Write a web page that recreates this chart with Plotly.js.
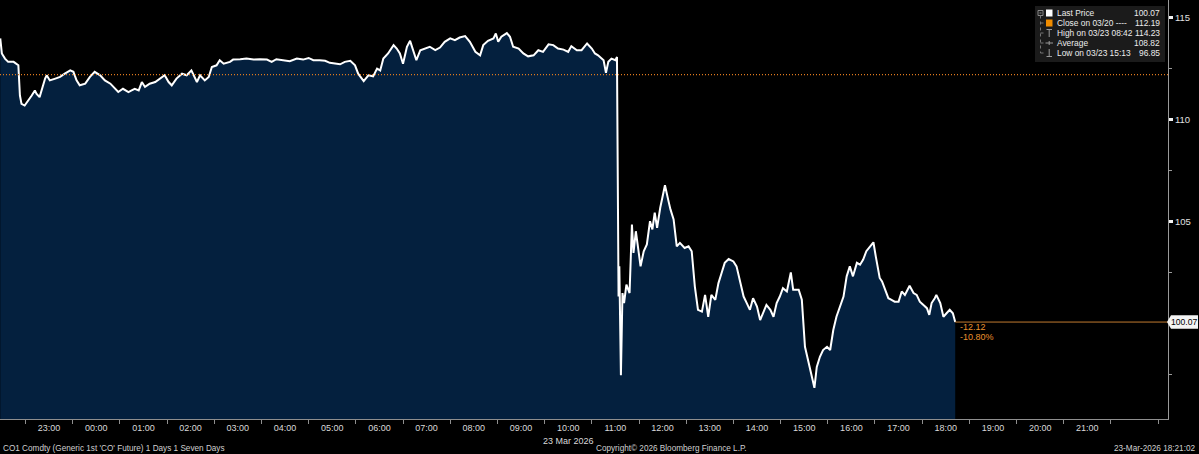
<!DOCTYPE html>
<html><head><meta charset="utf-8">
<script src="https://cdn.plot.ly/plotly-3.0.1.min.js"></script>
<style>html,body{margin:0;padding:0;background:#000;}#chart{width:1199px;height:454px;}</style>
</head><body><div id="chart"></div>
<script>
// ---- data ----
const timesMar22 = ['21:58','22:00','22:04','22:08','22:15','22:19','22:21','22:23','22:25','22:29','22:34','22:38','22:42','22:44','22:48','22:51','22:55','22:57','23:01','23:08','23:14','23:20','23:27','23:31','23:35','23:39','23:46','23:52','23:58'];
const pricesMar22 = [113.97,113.23,112.98,112.82,112.82,112.73,112.65,111.17,110.76,110.68,110.93,111.17,111.42,111.26,111.09,111.50,112.00,112.16,111.91,112.00,112.08,112.24,112.40,112.33,111.91,111.67,111.75,112.08,112.33];
const timesMar23 = ['00:05','00:11','00:18','00:24','00:28','00:34','00:41','00:45','00:49','00:54','00:58','01:02','01:08','01:15','01:21','01:27','01:32','01:36','01:42','01:49','01:55','02:01','02:08','02:12','02:18','02:23','02:27','02:33','02:37','02:42','02:50','02:54','03:03','03:11','03:20','03:28','03:37','03:43','03:49','03:58','04:06','04:15','04:23','04:30','04:36','04:44','04:51','04:57','05:04','05:10','05:16','05:23','05:29','05:33','05:40','05:46','05:52','05:57','06:01','06:05','06:11','06:18','06:22','06:26','06:30','06:35','06:39','06:43','06:47','06:52','06:58','07:04','07:11','07:17','07:23','07:30','07:36','07:42','07:49','07:55','08:02','08:08','08:12','08:18','08:25','08:28','08:31','08:35','08:42','08:46','08:50','08:57','09:03','09:09','09:16','09:22','09:28','09:35','09:41','09:47','09:54','10:00','10:04','10:11','10:17','10:24','10:30','10:34','10:38','10:45','10:48','10:51','10:55','11:00','11:02','11:04','11:05','11:07','11:09','11:11','11:14','11:18','11:21','11:23','11:26','11:29','11:32','11:36','11:40','11:44','11:47','11:50','11:53','11:57','12:00','12:03','12:07','12:10','12:14','12:18','12:22','12:28','12:33','12:37','12:41','12:45','12:50','12:54','12:58','13:02','13:07','13:11','13:15','13:19','13:24','13:30','13:34','13:38','13:43','13:47','13:51','13:55','14:00','14:04','14:08','14:12','14:17','14:21','14:25','14:29','14:33','14:38','14:43','14:46','14:53','14:57','15:01','15:05','15:08','15:13','15:16','15:20','15:24','15:29','15:33','15:37','15:41','15:46','15:50','15:54','15:58','16:02','16:07','16:11','16:15','16:19','16:24','16:28','16:31','16:36','16:39','16:43','16:47','16:51','16:55','17:00','17:04','17:08','17:14','17:19','17:23','17:27','17:31','17:36','17:39','17:42','17:46','17:48','17:53','17:57','18:01','18:05','18:09','18:12'];
const pricesMar23 = [112.16,111.91,111.75,111.50,111.34,111.50,111.34,111.42,111.50,111.42,111.83,111.59,111.75,111.83,112.00,112.16,111.83,111.67,112.00,112.24,112.16,112.40,111.83,112.16,111.91,112.08,112.57,112.65,112.90,112.73,112.82,112.93,112.95,112.98,112.93,112.95,112.93,112.82,112.95,112.90,112.85,112.98,112.93,113.01,112.90,112.90,112.87,112.77,112.73,112.70,112.82,112.87,112.65,112.24,111.88,112.16,112.11,112.49,112.40,112.98,113.23,113.64,113.47,113.23,112.73,113.56,113.85,113.39,112.90,113.39,113.47,113.56,113.39,113.52,113.80,113.97,113.88,114.01,114.08,113.80,113.31,113.14,113.64,113.85,113.97,114.21,113.80,114.05,114.23,114.05,113.56,113.47,113.23,113.09,113.14,113.39,113.31,113.68,113.64,113.47,113.42,113.31,113.59,113.39,113.39,113.72,113.47,113.23,113.14,112.90,112.28,112.82,112.98,112.90,113.06,101.32,102.80,97.46,101.49,101.00,101.90,101.49,104.85,103.46,104.52,103.70,102.80,103.54,103.87,105.01,104.61,105.43,104.69,105.67,106.25,106.77,106.08,105.59,105.10,103.78,103.95,103.70,103.78,103.54,101.81,100.67,100.58,101.40,100.33,101.40,101.16,101.98,102.47,102.97,103.16,103.04,102.80,102.14,101.32,101.00,100.67,101.24,100.83,100.17,100.50,100.91,100.67,100.33,101.00,101.32,101.73,101.57,102.50,101.65,101.65,101.16,98.86,98.20,97.71,96.85,97.87,98.37,98.70,98.86,98.70,99.68,100.33,100.83,101.32,102.31,102.80,102.31,102.97,102.88,103.13,103.54,103.78,103.98,103.29,102.23,102.06,101.65,101.24,101.16,101.07,101.07,101.57,101.40,101.85,101.49,101.40,101.07,100.91,100.75,100.42,101.00,101.24,101.40,101.00,100.33,100.50,100.67,100.50,100.07];
const hourLabels = ['23:00','00:00','01:00','02:00','03:00','04:00','05:00','06:00','07:00','08:00','09:00','10:00','11:00','12:00','13:00','14:00','15:00','16:00','17:00','18:00','19:00','20:00','21:00'];
const yTickVals = [105, 110, 115];
const yMinorVals = [97.5, 102.5, 107.5, 112.5];
const legendLabels = ['Last Price','Close on 03/20 ----','High on 03/23 08:42','Average','Low on 03/23 15:13'];
const legendValues = ['100.07','112.19','114.23','108.82','96.85'];
const lastPrice = 100.07;
const prevClose = 112.19;
const changeTexts = ['-12.12','-10.80%'];
const footerLeft = "CO1 Comdty (Generic 1st 'CO' Future) 1 Days 1 Seven Days";
const footerMid = 'Copyright\u00a9 2026 Bloomberg Finance L.P.';
const footerRight = '23-Mar-2026 18:21:02';
const dateLabel = '23 Mar 2026';

// ---- build ----
const times = timesMar22.map(t => '2026-03-22 ' + t).concat(timesMar23.map(t => '2026-03-23 ' + t));
const prices = pricesMar22.concat(pricesMar23);
const tickvals = hourLabels.map((h, i) => (i === 0 ? '2026-03-22 ' : '2026-03-23 ') + h);
const lastTime = times[times.length - 1];

const W = 1199, H = 454, ML = 0, MR = 31, MT = 0, MB = 35;
const PW = W - ML - MR, PH = H - MT - MB;
const xRange = ['2026-03-22 21:57:40', '2026-03-23 22:42:30'];
const yRange = [95.32, 115.85];
const px = x => (x - ML) / PW;
const py = y => 1 - (y - MT) / PH;
const yPaper = v => (v - yRange[0]) / (yRange[1] - yRange[0]);

const FONT = 'Liberation Sans, Arial, sans-serif';
const ORANGE = '#e8922e';

const shapes = [];
const annotations = [];

// previous close dotted line
shapes.push({type:'line', xref:'paper', yref:'y', x0:0, x1:1, y0:prevClose, y1:prevClose,
  line:{color:'#e07a1e', width:1.2, dash:'1px,2px'}, layer:'above'});
// last price line from last point to axis
shapes.push({type:'line', xref:'x', yref:'y', x0:lastTime, x1:xRange[1], y0:lastPrice, y1:lastPrice,
  line:{color:'#c17a30', width:1}});

// legend box
shapes.push({type:'rect', xref:'paper', yref:'paper', x0:px(1035), x1:px(1165), y0:py(62), y1:py(6),
  fillcolor:'#1b1b1b', line:{width:0}});
const rowY = [13, 23, 33, 43, 53];
// tree connector
shapes.push({type:'rect', xref:'paper', yref:'paper', x0:px(1038), x1:px(1043), y0:py(15.5), y1:py(10.5), line:{color:'#8a8a8a', width:1}});
shapes.push({type:'line', xref:'paper', yref:'paper', x0:px(1039.5), x1:px(1041.5), y0:py(13), y1:py(13), line:{color:'#8a8a8a', width:1}});
shapes.push({type:'line', xref:'paper', yref:'paper', x0:px(1040.5), x1:px(1040.5), y0:py(15.5), y1:py(53), line:{color:'#777', width:1, dash:'dot'}});
for (let i = 1; i < 5; i++) {
  shapes.push({type:'line', xref:'paper', yref:'paper', x0:px(1040.5), x1:px(1044), y0:py(rowY[i]), y1:py(rowY[i]), line:{color:'#777', width:1, dash:'dot'}});
}
// icons
shapes.push({type:'rect', xref:'paper', yref:'paper', x0:px(1046), x1:px(1052.5), y0:py(16.5), y1:py(9.5), fillcolor:'#ffffff', line:{width:0}});
shapes.push({type:'rect', xref:'paper', yref:'paper', x0:px(1046), x1:px(1052.5), y0:py(26.5), y1:py(19.5), fillcolor:'#f08c00', line:{width:0}});
shapes.push({type:'line', xref:'paper', yref:'paper', x0:px(1046.5), x1:px(1052), y0:py(29.5), y1:py(29.5), line:{color:'#9a9a9a', width:1}});
shapes.push({type:'line', xref:'paper', yref:'paper', x0:px(1049.2), x1:px(1049.2), y0:py(29.5), y1:py(37), line:{color:'#9a9a9a', width:1}});
shapes.push({type:'line', xref:'paper', yref:'paper', x0:px(1045.5), x1:px(1053), y0:py(43), y1:py(43), line:{color:'#9a9a9a', width:1}});
shapes.push({type:'line', xref:'paper', yref:'paper', x0:px(1049.2), x1:px(1049.2), y0:py(41), y1:py(45), line:{color:'#9a9a9a', width:1}});
shapes.push({type:'line', xref:'paper', yref:'paper', x0:px(1049.2), x1:px(1049.2), y0:py(49), y1:py(56.5), line:{color:'#9a9a9a', width:1}});
shapes.push({type:'line', xref:'paper', yref:'paper', x0:px(1046.5), x1:px(1052), y0:py(56.5), y1:py(56.5), line:{color:'#9a9a9a', width:1}});

legendLabels.forEach((lab, i) => {
  annotations.push({xref:'paper', yref:'paper', x:px(1055), y:py(rowY[i]), xanchor:'left', yanchor:'middle',
    text:lab, showarrow:false, font:{family:FONT, size:8.4, color:'#ececec'}});
  annotations.push({xref:'paper', yref:'paper', x:px(1162), y:py(rowY[i]), xanchor:'right', yanchor:'middle',
    text:legendValues[i], showarrow:false, font:{family:FONT, size:8.4, color:'#ececec'}});
});

// last price tag on the right axis
const yp = yPaper(lastPrice);
const hh = 6.8 / PH;
shapes.push({type:'path', xref:'paper', yref:'paper',
  path:`M ${px(1167)} ${yp} L ${px(1171)} ${yp + hh} L ${px(1198)} ${yp + hh} L ${px(1198)} ${yp - hh} L ${px(1171)} ${yp - hh} Z`,
  fillcolor:'#f4f4f4', line:{width:0}});
annotations.push({xref:'paper', yref:'paper', x:px(1184.5), y:yp, xanchor:'center', yanchor:'middle',
  text:legendValues[0], showarrow:false, font:{family:FONT, size:8.6, color:'#000'}});

// change annotations
changeTexts.forEach((t, i) => {
  annotations.push({xref:'x', yref:'y', x:lastTime, y:lastPrice, xanchor:'left', yanchor:'middle',
    xshift:3, yshift:-4.5 - 10 * i, text:t, showarrow:false, font:{family:FONT, size:9, color:ORANGE}});
});

// date label and footer
annotations.push({xref:'x', yref:'paper', x:'2026-03-23 10:00', y:py(441), xanchor:'center', yanchor:'middle',
  text:dateLabel, showarrow:false, font:{family:FONT, size:9, color:'#d9d9d9'}});
annotations.push({xref:'paper', yref:'paper', x:px(1), y:py(448.5), xanchor:'left', yanchor:'middle',
  text:footerLeft, showarrow:false, font:{family:FONT, size:8.2, color:'#d0d0d0'}});
annotations.push({xref:'paper', yref:'paper', x:px(671), y:py(448.5), xanchor:'center', yanchor:'middle',
  text:footerMid, showarrow:false, font:{family:FONT, size:8.2, color:'#d0d0d0'}});
annotations.push({xref:'paper', yref:'paper', x:px(1197), y:py(448.5), xanchor:'right', yanchor:'middle',
  text:footerRight, showarrow:false, font:{family:FONT, size:8.2, color:'#d0d0d0'}});

const trace = {
  type:'scatter', mode:'lines', x:times, y:prices,
  line:{color:'#ffffff', width:2}, fill:'tozeroy', fillcolor:'#04203e',
  hoverinfo:'skip'
};

const layout = {
  width:W, height:H, margin:{l:ML, r:MR, t:MT, b:MB},
  paper_bgcolor:'#000000', plot_bgcolor:'#000000', showlegend:false,
  font:{family:FONT, size:10, color:'#d9d9d9'},
  xaxis:{type:'date', range:xRange, showline:true, linecolor:'#8f8f8f', linewidth:1,
    tickmode:'array', tickvals:tickvals, ticktext:hourLabels, ticks:'', ticklen:0,
    tickfont:{family:FONT, size:9, color:'#d9d9d9'},
    minor:{tickmode:'linear', tick0:'2026-03-22 22:30', dtick:3600000, ticks:'outside', ticklen:4, tickcolor:'#8f8f8f', showgrid:false},
    showgrid:false, zeroline:false, fixedrange:true},
  yaxis:{side:'right', range:yRange, showline:true, linecolor:'#9a9a9a', linewidth:1,
    tickmode:'array', tickvals:yTickVals, ticks:'outside', ticklen:4, tickwidth:3, tickcolor:'#f2f2f2',
    tickfont:{family:FONT, size:9.5, color:'#e0e0e0'},
    minor:{tickmode:'array', tickvals:yMinorVals, ticks:'outside', ticklen:3, tickwidth:1, tickcolor:'#9a9a9a', showgrid:false},
    showgrid:false, zeroline:false, fixedrange:true},
  shapes:shapes, annotations:annotations
};

Plotly.newPlot('chart', [trace], layout, {staticPlot:true, displayModeBar:false});
</script>
</body></html>
